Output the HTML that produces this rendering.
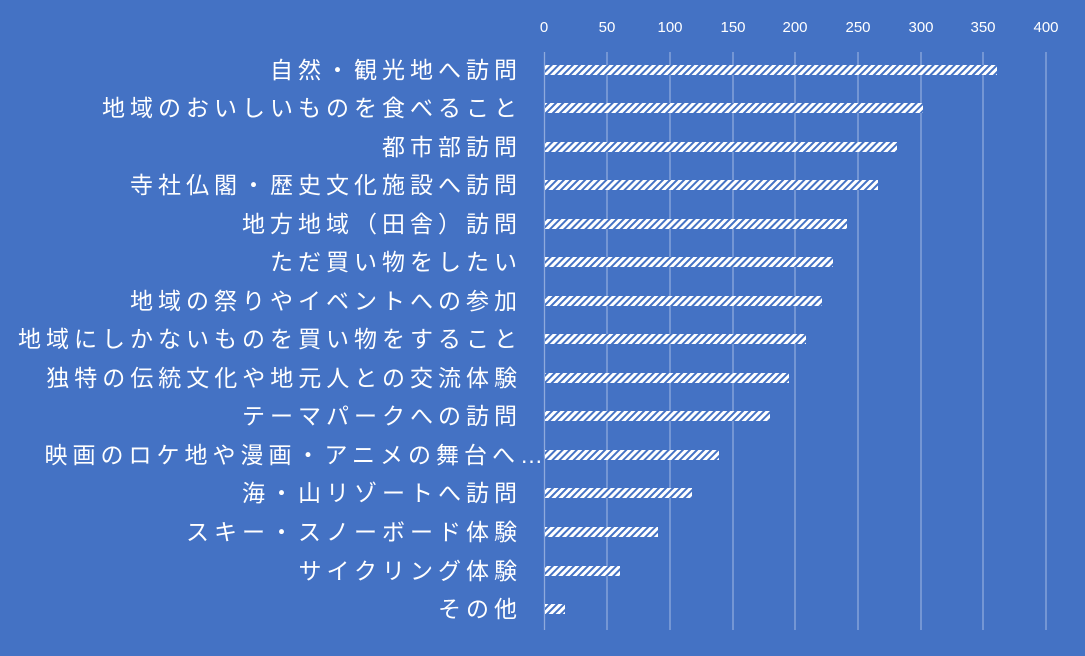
<!DOCTYPE html>
<html><head><meta charset="utf-8"><style>
body{margin:0;background:#4472c4}
svg{display:block}
text{font-family:"Liberation Sans","Noto Sans CJK JP",sans-serif;fill:#fff}
</style></head><body>
<svg width="1085" height="656" xmlns="http://www.w3.org/2000/svg">
<defs><pattern id="p" width="5" height="5" patternUnits="userSpaceOnUse" patternTransform="rotate(45)">
<rect width="5" height="5" fill="#fff"/><rect width="2" height="5" fill="#4472c4"/></pattern></defs>
<rect width="1085" height="656" fill="#4472c4"/>
<g stroke="#8faadc" stroke-width="1.3">
<line x1="544.5" y1="52" x2="544.5" y2="630"/><line x1="607" y1="52" x2="607" y2="630"/><line x1="670" y1="52" x2="670" y2="630"/><line x1="733" y1="52" x2="733" y2="630"/><line x1="795" y1="52" x2="795" y2="630"/><line x1="858" y1="52" x2="858" y2="630"/><line x1="921" y1="52" x2="921" y2="630"/><line x1="983" y1="52" x2="983" y2="630"/><line x1="1046" y1="52" x2="1046" y2="630"/>
</g>
<g font-size="15" text-anchor="middle">
<text x="544" y="32">0</text><text x="607" y="32">50</text><text x="670" y="32">100</text><text x="733" y="32">150</text><text x="795" y="32">200</text><text x="858" y="32">250</text><text x="921" y="32">300</text><text x="983" y="32">350</text><text x="1046" y="32">400</text>
</g>
<g fill="url(#p)">
<rect x="545" y="65" width="452" height="10"/>
<rect x="545" y="103" width="378" height="10"/>
<rect x="545" y="142" width="352" height="10"/>
<rect x="545" y="180" width="333" height="10"/>
<rect x="545" y="219" width="302" height="10"/>
<rect x="545" y="257" width="288" height="10"/>
<rect x="545" y="296" width="277" height="10"/>
<rect x="545" y="334" width="261" height="10"/>
<rect x="545" y="373" width="244" height="10"/>
<rect x="545" y="411" width="225" height="10"/>
<rect x="545" y="450" width="174" height="10"/>
<rect x="545" y="488" width="147" height="10"/>
<rect x="545" y="527" width="113" height="10"/>
<rect x="545" y="566" width="75" height="10"/>
<rect x="545" y="604" width="20" height="10"/>
</g>
<g font-size="23" text-anchor="end" letter-spacing="5">
<text x="522" y="78">自然・観光地へ訪問</text>
<text x="522" y="116">地域のおいしいものを食べること</text>
<text x="522" y="155">都市部訪問</text>
<text x="522" y="193">寺社仏閣・歴史文化施設へ訪問</text>
<text x="522" y="232">地方地域（田舎）訪問</text>
<text x="522" y="270">ただ買い物をしたい</text>
<text x="522" y="309">地域の祭りやイベントへの参加</text>
<text x="522" y="347">地域にしかないものを買い物をすること</text>
<text x="522" y="386">独特の伝統文化や地元人との交流体験</text>
<text x="522" y="424">テーマパークへの訪問</text>
<text x="548" y="463">映画のロケ地や漫画・アニメの舞台へ…</text>
<text x="522" y="501">海・山リゾートへ訪問</text>
<text x="522" y="540">スキー・スノーボード体験</text>
<text x="522" y="579">サイクリング体験</text>
<text x="522" y="617">その他</text>
</g>
</svg>
</body></html>
